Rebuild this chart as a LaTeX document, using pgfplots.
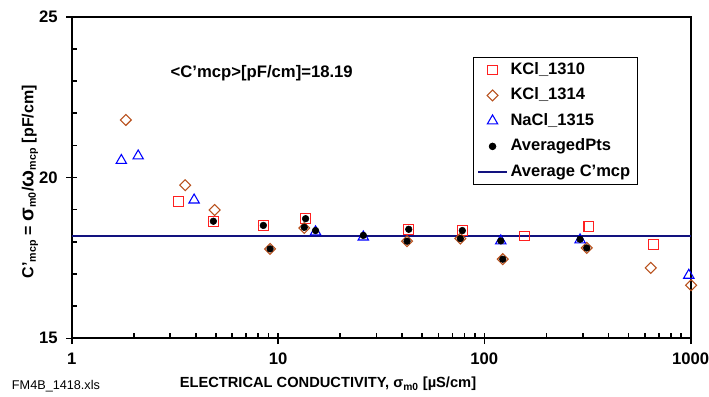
\documentclass[border=0pt]{standalone}
\usepackage{fontspec}
\setmainfont{Liberation Sans}
\usepackage{pgfplots}
\pgfplotsset{compat=1.18}
\definecolor{sqred}{HTML}{FF2020}
\definecolor{dmbrown}{HTML}{B8501C}
\definecolor{trblue}{HTML}{0000FF}
\definecolor{avnavy}{HTML}{12127F}
\begin{document}
\begin{tikzpicture}
\useasboundingbox (-53.78pt,-44pt) rectangle (477.98pt,253.73pt);
\begin{axis}[
  scale only axis, width=464.25pt, height=241.2pt,
  xmode=log, xmin=1, xmax=1000, ymin=15, ymax=25,
  clip=false,
  axis line style={line width=1.5pt},
  xtick={1,10,100,1000}, xticklabels={1,10,100,1000},
  minor xtick={2,3,4,5,6,7,8,9,20,30,40,50,60,70,80,90,200,300,400,500,600,700,800,900},
  ytick={15,20,25}, yticklabels={15,20,25},
  minor ytick={16,17,18,19,21,22,23,24},
  xtick pos=bottom, ytick pos=left,
  tick align=inside, major tick length=4.3pt, minor tick length=3.8pt,
  tick style={line width=1.2pt, black},
  extra x ticks={1,10,100,1000}, extra x tick labels={},
  extra y ticks={15,20,25}, extra y tick labels={},
  extra tick style={tick align=outside, major tick length=4.3pt},
  ticklabel style={font=\fontsize{12.5}{12.5}\selectfont\bfseries},
  xticklabel style={yshift=-7.5pt},
  yticklabel style={xshift=-7pt},
  xlabel={ELECTRICAL CONDUCTIVITY, σ\textsubscript{m0} [µS/cm]},
  xlabel style={at={(axis description cs:0.414,-0.1422)}, anchor=center, font=\fontsize{11}{11}\selectfont\bfseries},
  ylabel={C'\textsubscript{mcp} = {\fontsize{15}{15}\selectfont σ}\textsubscript{m0}/{\fontsize{15}{15}\selectfont ω}\textsubscript{mcp} [pF/cm]},
  ylabel style={at={(axis description cs:-0.0674,0.487)}, anchor=center, font=\fontsize{12}{12}\selectfont\bfseries},
  legend image code/.code={\draw[mark repeat=2,mark phase=2,#1] plot coordinates {(0pt,0pt) (10.75pt,0pt) (21.5pt,0pt)};},
  legend style={at={(axis description cs:0.648,0.876)}, anchor=north west, draw=black, line width=0.6pt,
    font=\fontsize{12.4}{13}\selectfont\bfseries, row sep=5.6pt, inner xsep=3pt, inner ysep=3pt,
    nodes={text height=9pt, text depth=2.5pt, inner ysep=1pt},
    cells={anchor=west}},
  legend entries={KCl\_1310, KCl\_1314, NaCl\_1315, AveragedPts, Average C'mcp},
]
\addplot[only marks, mark=square, mark size=3.6pt, mark options={draw=sqred, line width=0.8pt}] coordinates {
 (3.29,19.26) (4.86,18.64) (8.49,18.51) (13.6,18.72) (43.0,18.39) (78.2,18.35) (156.3,18.18) (320.7,18.47) (659.5,17.91)
};
\addplot[only marks, mark=square, mark size=2.9pt, mark options={draw=dmbrown, line width=0.8pt, rotate=45}] coordinates {
 (1.83,21.79) (3.55,19.76) (4.93,18.99) (9.15,17.78) (13.4,18.43) (42.2,18.02) (76.5,18.10) (122.8,17.46) (313.6,17.81) (640.6,17.19) (1004,16.65)
};
\addplot[only marks, mark=triangle, mark size=4.5pt, mark options={draw=trblue, line width=0.8pt}] coordinates {
 (1.74,20.53) (2.10,20.67) (3.92,19.30) (15.2,18.31) (25.9,18.15) (120.1,18.03) (291,18.06) (979,16.96)
};
\addplot[only marks, mark=*, mark size=2.5pt, mark options={fill=black, draw=black}] coordinates {
 (4.86,18.64) (8.49,18.51) (9.15,17.78) (13.6,18.72) (13.4,18.45) (15.2,18.35) (25.9,18.20) (43.0,18.39) (42.2,18.02) (78.2,18.35) (76.5,18.10) (120.1,18.03) (122.8,17.46) (291,18.08) (313.6,17.81)
};
\addplot[avnavy, line width=1.5pt, mark=none] coordinates {(1,18.19) (1000,18.19)};
\node[font=\fontsize{12.5}{13}\selectfont\bfseries] at (axis description cs:0.307,0.825) {<C'mcp>[pF/cm]=18.19};
\end{axis}
\node[font=\fontsize{9.5}{10}\selectfont] at (-11.8pt,-35.8pt) {FM4B\_1418.xls};
\end{tikzpicture}
\end{document}
